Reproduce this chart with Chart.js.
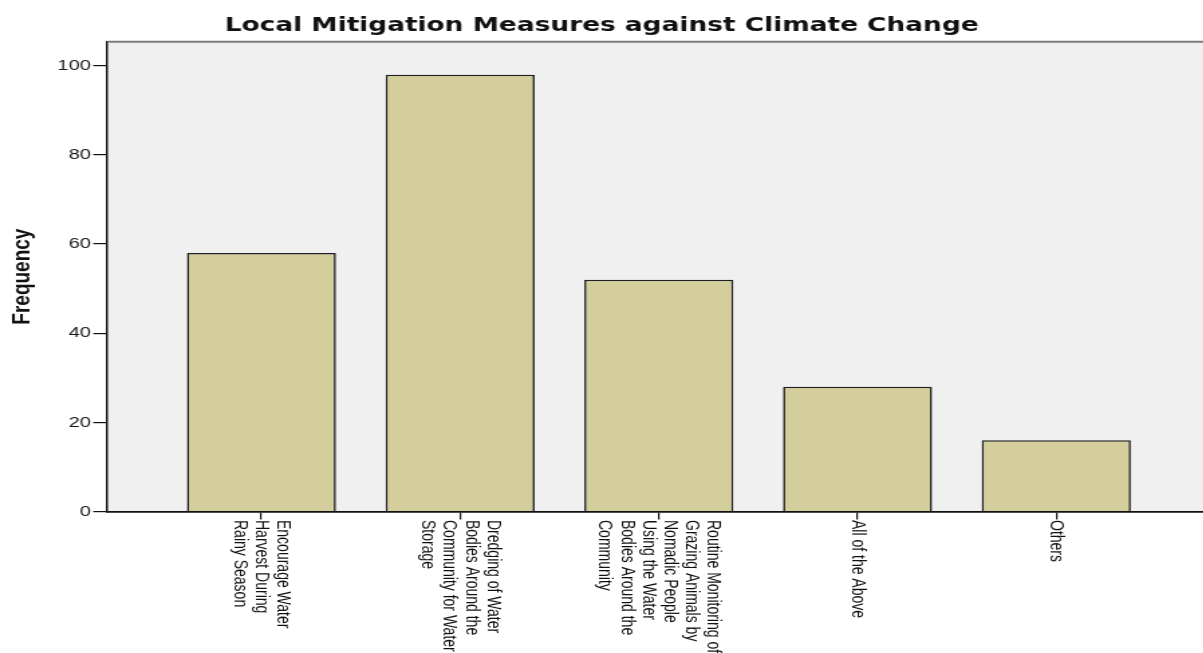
<!DOCTYPE html>
<html>
<head>
<meta charset="utf-8">
<title>Local Mitigation Measures against Climate Change</title>
<script src="https://cdn.jsdelivr.net/npm/chart.js@4/dist/chart.umd.min.js"></script>
<style>
  html, body { margin: 0; padding: 0; background: #fff; overflow: hidden; width: 1203px; height: 653px; }
  /* the chart is drawn on a narrower canvas and widened horizontally */
  #wrap { width: 898px; height: 653px; transform: scaleX(1.34); transform-origin: 0 0; }
  canvas { display: block; }
</style>
</head>
<body>
<div id="wrap"><canvas id="chart" width="898" height="653"></canvas></div>
<script>
// Category labels, one entry per bar, already split into their wrapped lines
const categories = [
  ['Encourage Water', 'Harvest During', 'Rainy Season'],
  ['Dredging of Water', 'Bodies Around the', 'Community for Water', 'Storage'],
  ['Routine Monitoring of', 'Grazing Animals by', 'Nomadic People', 'Using the Water', 'Bodies Around the', 'Community'],
  ['All of the Above'],
  ['Others']
];
const frequencies = [58, 98, 52, 28, 16];
const yTickValues = [0, 20, 40, 60, 80, 100];
const chartTitle = 'Local Mitigation Measures against Climate Change';
const yAxisTitle = 'Frequency';

const SANS = '"Liberation Sans", Arial, Helvetica, sans-serif';

// light grey plot background
const plotBackground = {
  id: 'plotBackground',
  beforeDraw(chart) {
    const { ctx, chartArea: a } = chart;
    ctx.save();
    ctx.fillStyle = '#f0f0f0';
    ctx.fillRect(a.left, a.top, a.right - a.left, a.bottom - a.top);
    ctx.restore();
  }
};

// grey frame line along the top of the plot area
const topFrame = {
  id: 'topFrame',
  beforeDatasetsDraw(chart) {
    const { ctx, chartArea: a } = chart;
    ctx.save();
    ctx.strokeStyle = '#7c7c7c';
    ctx.lineWidth = 2;
    ctx.beginPath();
    ctx.moveTo(a.left, a.top);
    ctx.lineTo(a.right, a.top);
    ctx.stroke();
    ctx.restore();
  }
};

// category names written downwards under each tick, first line on the right
const categoryLabels = {
  id: 'categoryLabels',
  afterDraw(chart) {
    const xs = chart.scales.x;
    const ctx = chart.ctx;
    const lineStep = 16.2;
    ctx.save();
    ctx.font = '14px ' + SANS;
    ctx.fillStyle = '#111';
    ctx.textAlign = 'left';
    ctx.textBaseline = 'middle';
    categories.forEach((lines, i) => {
      const px = xs.getPixelForValue(i);
      ctx.save();
      ctx.translate(px, xs.top + 8.5);
      ctx.rotate(Math.PI / 2);
      lines.forEach((text, j) => {
        ctx.fillText(text, 0, (j - (lines.length - 1) / 2) * lineStep);
      });
      ctx.restore();
    });
    ctx.restore();
  }
};

new Chart(document.getElementById('chart'), {
  type: 'bar',
  data: {
    datasets: [{
      label: yAxisTitle,
      data: frequencies.map((v, i) => ({ x: i, y: v })),
      backgroundColor: '#d3ce9b',
      borderColor: '#1f1f1f',
      borderWidth: 1.6,
      borderSkipped: 'bottom',
      barPercentage: 0.75,
      categoryPercentage: 1
    }]
  },
  options: {
    responsive: false,
    animation: false,
    events: [],
    layout: { padding: 0 },
    plugins: {
      legend: { display: false },
      tooltip: { enabled: false },
      title: {
        display: true,
        text: chartTitle,
        color: '#111',
        font: { family: '"DejaVu Sans", sans-serif', size: 19.7, weight: 'bold', lineHeight: 1.2 },
        padding: { top: 13.7, bottom: 4.4 }
      }
    },
    scales: {
      x: {
        type: 'linear',
        min: -0.776,
        max: 4.74,
        bounds: 'data',
        offset: false,
        afterBuildTicks: s => { s.ticks = categories.map((_, i) => ({ value: i })); },
        ticks: { display: false },
        grid: { display: true, offset: false, drawOnChartArea: false, drawTicks: true, tickLength: 8, color: '#111', lineWidth: 1.2 },
        border: { display: true, color: '#111', width: 1.8 },
        afterFit: s => { s.height = 141.5; }
      },
      y: {
        min: 0,
        max: 105.4,
        bounds: 'data',
        afterBuildTicks: s => { s.ticks = yTickValues.map(v => ({ value: v })); },
        ticks: { color: '#1a1a1a', font: { family: SANS, size: 15 }, padding: 1.7 },
        grid: { drawOnChartArea: false, drawTicks: true, tickLength: 10.4, color: '#111', lineWidth: 1.2 },
        border: { display: true, color: '#111', width: 1.5 },
        title: {
          display: true,
          text: yAxisTitle,
          color: '#111',
          font: { family: SANS, size: 19, weight: 'bold', lineHeight: 1.2 },
          padding: { top: 5.5, bottom: 0 }
        },
        afterFit: s => { s.width = 80; }
      }
    }
  },
  plugins: [plotBackground, topFrame, categoryLabels]
});
</script>
</body>
</html>
